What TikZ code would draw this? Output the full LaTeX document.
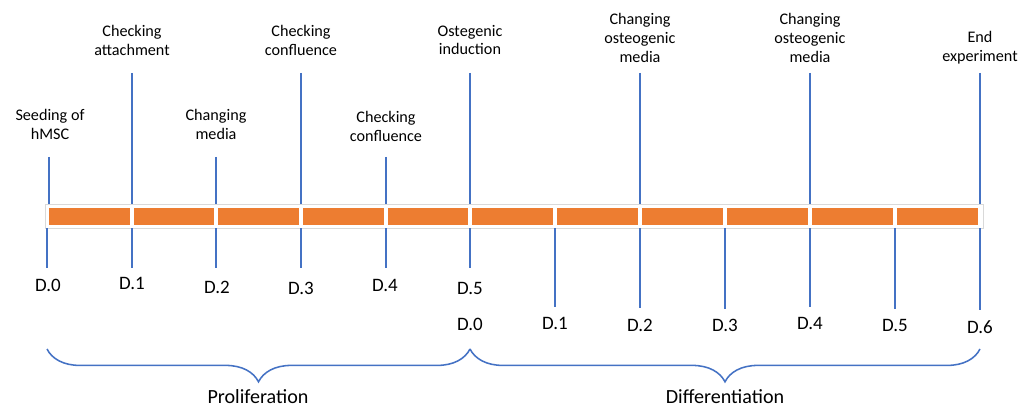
\documentclass[tikz,border=0pt]{standalone}
\usepackage{fontspec}
\setmainfont{Carlito}
\usetikzlibrary{decorations.pathreplacing}
\definecolor{tblue}{HTML}{4472C4}
\definecolor{torange}{HTML}{ED7D31}
\definecolor{tframe}{HTML}{D9D9D9}
\tikzset{
  every picture/.style={x=0.025cm, y=-0.025cm},
  tick/.style={draw=tblue, line width=1.3pt},
  event/.style={font=\fontsize{11.5}{13.5}\selectfont, align=center, inner sep=0pt},
  day/.style={font=\fontsize{13.5}{16}\selectfont, inner sep=0pt},
  phase/.style={font=\fontsize{14.3}{16}\selectfont, inner sep=0pt},
  seg/.style={fill=torange, draw=none},
  phasebrace/.style={draw=tblue, line width=1.1pt, decorate, decoration={brace, mirror, amplitude=0.82cm}},
}

\begin{document}
\begin{tikzpicture}
  \useasboundingbox (0,0) rectangle (1035,407);
  % timeline bar
  \draw[fill=white, draw=tframe, line width=0.6pt] (45,204) rectangle (983,228);
  \foreach \a/\b in {47/132,132/216,216/301,301/386,386/470,470/555,555/640,640/725,725/810,810/895,895/980}
    \fill[seg] (\a+2,208) rectangle (\b-2,225);
  \foreach \n/\x in {0/47,1/132,2/216,3/301,4/386,5/470,6/555,7/640,8/725,9/810,10/895,11/980} {
    \coordinate (top\n) at (\x,204);
    \coordinate (bot\n) at (\x,228);
  }
  \coordinate (top0) at (49,204);

  % events above the bar
  \node[event] (seed) at (50,124) {Seeding of\\hMSC};
  \node[event] (attach) at (132,40) {Checking\\attachment};
  \node[event] (media) at (216,124) {Changing\\media};
  \node[event] (conf1) at (301,40) {Checking\\confluence};
  \node[event] (conf2) at (386,126) {Checking\\confluence};
  \node[event] (induct) at (470,40) {Ostegenic\\induction};
  \node[event] (osteo1) at (640,38) {Changing\\osteogenic\\media};
  \node[event] (osteo2) at (810,38) {Changing\\osteogenic\\media};
  \node[event] (stop) at (980,48) {End\\experiment};
  \foreach \n/\x/\y in {0/49/157,1/132/73,2/216/157,3/301/73,4/386/157,5/470/73,7/640/73,9/810/73,11/980/73} {
    \coordinate (up\n) at (\x,\y);
    \draw[tick] (up\n) -- (top\n);
  }

  % days below the bar
  \foreach \n/\x/\y in {0/47/268,1/132/268,2/216/268,3/301/268,4/386/268,5/470/268,6/555/307,7/640/308,8/725/309,9/810/307,10/895/309,11/980/310} {
    \coordinate (dn\n) at (\x,\y);
    \draw[tick] (bot\n) -- (dn\n);
  }
  \foreach \n/\x/\y in {0/48/285,1/132/283,2/217/287,3/301/288,4/385/285,5/470/288}
    \node[day] (pro\n) at (\x,\y) {D.\n};
  \foreach \n/\x/\y in {0/470/324,1/555/323,2/640/325,3/725/325,4/810/323,5/895/325,6/980/327}
    \node[day] (dif\n) at (\x,\y) {D.\n};

  % phases
  \coordinate (pstart) at (47,349);
  \coordinate (pend) at (470,349);
  \coordinate (dend) at (980,349);
  \draw[phasebrace] (pstart) -- (pend);
  \draw[phasebrace] (pend) -- (dend);
  \node[phase] (prolif) at (258,397) {Proliferation};
  \node[phase] (diff) at (725,397) {Differentiation};
\end{tikzpicture}
\end{document}
